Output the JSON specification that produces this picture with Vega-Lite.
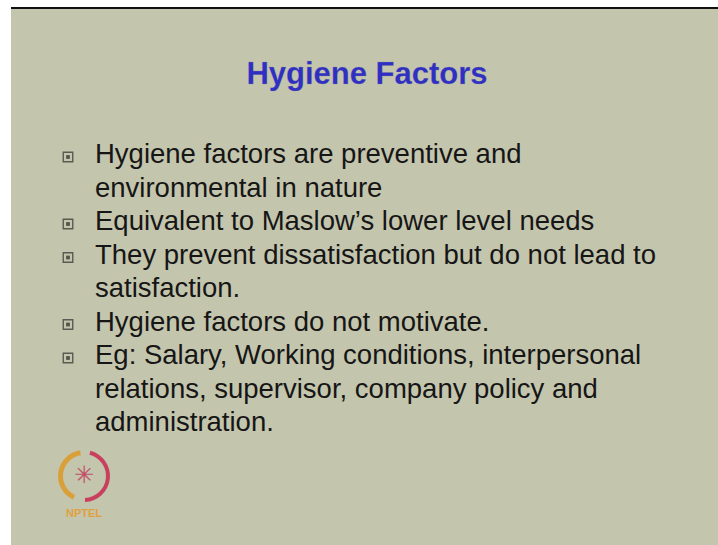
{
  "$schema": "https://vega.github.io/schema/vega-lite/v6.json",
  "width": 718,
  "height": 545,
  "autosize": {"type": "fit", "contains": "padding"},
  "padding": {"left": 10, "top": 7, "right": 0, "bottom": 0},
  "background": "#ffffff",
  "config": {"view": {"fill": "#c4c5ad", "stroke": null}, "font": "Liberation Sans"},
  "datasets": {
    "lines": [
      {"line": 1, "text": "Hygiene factors are preventive and", "bullet": true},
      {"line": 2, "text": "environmental in nature", "bullet": false},
      {"line": 3, "text": "Equivalent to Maslow’s lower level needs", "bullet": true},
      {"line": 4, "text": "They prevent dissatisfaction but do not lead to", "bullet": true},
      {"line": 5, "text": "satisfaction.", "bullet": false},
      {"line": 6, "text": "Hygiene factors do not motivate.", "bullet": true},
      {"line": 7, "text": "Eg: Salary, Working conditions, interpersonal", "bullet": true},
      {"line": 8, "text": "relations, supervisor, company policy and", "bullet": false},
      {"line": 9, "text": "administration.", "bullet": false}
    ],
    "one": [{"title": "Hygiene Factors"}]
  },
  "layer": [
    {
      "data": {"name": "one"},
      "mark": {"type": "rule", "color": "#111111", "strokeWidth": 2},
      "encoding": {"x": {"value": 0}, "x2": {"value": 708}, "y": {"value": 0}}
    },
    {
      "data": {"name": "one"},
      "mark": {"type": "text", "font": "Liberation Sans", "fontWeight": "bold", "fontSize": 31, "align": "center", "baseline": "alphabetic", "color": "#2f2fc4", "stroke": "#8a8c98", "strokeWidth": 0.4, "strokeOpacity": 0.6},
      "encoding": {"x": {"value": 356}, "y": {"value": 76}, "text": {"field": "title"}}
    },
    {
      "data": {"name": "lines"},
      "transform": [{"filter": "datum.bullet"}],
      "mark": {"type": "point", "shape": "square", "filled": false, "size": 90, "stroke": "#2e2e2e", "strokeWidth": 1.4, "yOffset": -6},
      "encoding": {
        "x": {"value": 57},
        "y": {"field": "line", "type": "ordinal", "scale": {"type": "point", "range": [155, 423], "padding": 0}, "axis": null}
      }
    },
    {
      "data": {"name": "lines"},
      "transform": [{"filter": "datum.bullet"}],
      "mark": {"type": "point", "shape": "square", "filled": true, "size": 14, "color": "#222222", "yOffset": -6},
      "encoding": {
        "x": {"value": 57},
        "y": {"field": "line", "type": "ordinal", "scale": {"type": "point", "range": [155, 423], "padding": 0}, "axis": null}
      }
    },
    {
      "data": {"name": "lines"},
      "mark": {"type": "text", "font": "Liberation Sans", "fontSize": 27.5, "align": "left", "baseline": "alphabetic", "color": "#161616"},
      "encoding": {
        "x": {"value": 84},
        "y": {"field": "line", "type": "ordinal", "scale": {"type": "point", "range": [155, 423], "padding": 0}, "axis": null},
        "text": {"field": "text"}
      }
    },
    {
      "data": {"name": "one"},
      "mark": {"type": "arc", "radius": 26, "radius2": 21, "theta": -2.7, "theta2": -0.15, "color": "#d9a03a"},
      "encoding": {"x": {"value": 73}, "y": {"value": 468}}
    },
    {
      "data": {"name": "one"},
      "mark": {"type": "arc", "radius": 26, "radius2": 22, "theta": 0.25, "theta2": 3.1, "color": "#c8405e"},
      "encoding": {"x": {"value": 73}, "y": {"value": 468}}
    },
    {
      "data": {"name": "one"},
      "mark": {"type": "text", "text": "✳", "font": "DejaVu Sans", "fontSize": 24, "align": "center", "baseline": "middle", "color": "#c0506a"},
      "encoding": {"x": {"value": 73}, "y": {"value": 468}}
    },
    {
      "data": {"name": "one"},
      "mark": {"type": "text", "text": "NPTEL", "font": "Liberation Sans", "fontWeight": "bold", "fontSize": 11, "align": "center", "baseline": "alphabetic", "color": "#e0a040"},
      "encoding": {"x": {"value": 73}, "y": {"value": 509}}
    }
  ]
}
